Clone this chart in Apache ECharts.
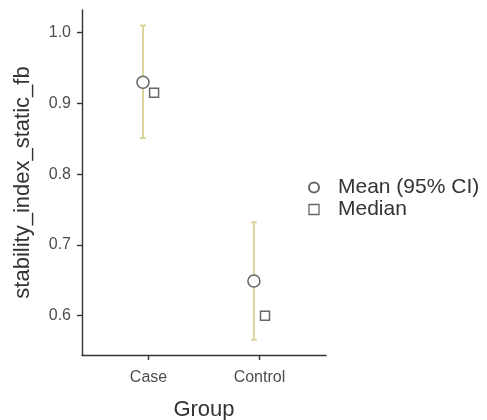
<!DOCTYPE html>
<html>
<head>
<meta charset="utf-8">
<script src="https://cdn.jsdelivr.net/npm/echarts@6/dist/echarts.min.js"></script>
<style>
  html, body { margin: 0; padding: 0; background: #fff; }
  #chart { width: 487px; height: 420px; }
</style>
</head>
<body>
<div id="chart"></div>
<script>
// groups on the x axis
var groups = ['Case', 'Control'];
// mean with 95% CI
var meanValues = [0.930, 0.649];
var ciLower = [0.851, 0.566];
var ciUpper = [1.010, 0.732];
// median
var medianValues = [0.915, 0.600];
var yTicks = [0.6, 0.7, 0.8, 0.9, 1.0];

var dodge = 0.05;
var meanData = [];
var medianData = [];
var ciData = [];
groups.forEach(function(g, i) {
    meanData.push([i + 1 - dodge, meanValues[i]]);
    medianData.push([i + 1 + dodge, medianValues[i]]);
    ciData.push([i + 1 - dodge, ciLower[i], ciUpper[i]]);
});

var myEchart = echarts.init(document.getElementById('chart'));
var option = {
    animation: false,
    textStyle: { fontFamily: 'Liberation Sans, Arial, sans-serif' },
    grid: { left: 82, top: 10, width: 244, height: 345, outerBoundsMode: 'none', containLabel: false },
    legend: {
        orient: 'vertical',
        left: 303,
        top: 172,
        itemWidth: 10,
        itemHeight: 10,
        itemGap: 1,
        textStyle: { color: '#333', fontSize: 21, lineHeight: 18, padding: [0, 0, 0, 14] },
        data: [
            { name: 'Mean (95% CI)', icon: 'circle' },
            { name: 'Median', icon: 'rect', itemStyle: { borderWidth: 1.3 } }
        ]
    },
    xAxis: {
        type: 'value',
        min: 0.4,
        max: 2.6,
        name: 'Group',
        nameLocation: 'middle',
        nameGap: 44,
        nameTextStyle: { color: '#333', fontSize: 22 },
        splitLine: { show: false },
        axisLine: { lineStyle: { color: '#333', width: 1.4 } },
        axisTick: { show: true, customValues: [1, 2], length: 5, lineStyle: { color: '#333', width: 1.4 } },
        axisLabel: {
            customValues: [1, 2],
            color: '#4d4d4d',
            fontSize: 16,
            margin: 15,
            formatter: function(v) { return groups[Math.round(v) - 1]; }
        }
    },
    yAxis: {
        type: 'value',
        min: 0.5444,
        max: 1.032,
        name: 'stability_index_static_fb',
        nameLocation: 'middle',
        nameGap: 48,
        nameTextStyle: { color: '#333', fontSize: 22 },
        splitLine: { show: false },
        axisLine: { show: true, lineStyle: { color: '#333', width: 1.4 } },
        axisTick: { show: true, customValues: yTicks, length: 5, lineStyle: { color: '#333', width: 1.4 } },
        axisLabel: {
            customValues: yTicks,
            color: '#4d4d4d',
            fontSize: 16,
            margin: 11,
            formatter: function(v) { return v.toFixed(1); }
        }
    },
    series: [{
        name: 'CI',
        type: 'custom',
        data: ciData,
        z: 1,
        renderItem: function(params, api) {
            var lo = api.coord([api.value(0), api.value(1)]);
            var hi = api.coord([api.value(0), api.value(2)]);
            var cap = 3;
            var style = { stroke: '#dbd69c', lineWidth: 2 };
            return {
                type: 'group',
                children: [
                    { type: 'line', shape: { x1: lo[0], y1: lo[1], x2: hi[0], y2: hi[1] }, style: style },
                    { type: 'line', shape: { x1: lo[0] - cap, y1: lo[1], x2: lo[0] + cap, y2: lo[1] }, style: style },
                    { type: 'line', shape: { x1: hi[0] - cap, y1: hi[1], x2: hi[0] + cap, y2: hi[1] }, style: style }
                ]
            };
        }
    }, {
        name: 'Mean (95% CI)',
        type: 'scatter',
        data: meanData,
        symbol: 'circle',
        symbolSize: 12,
        z: 3,
        itemStyle: { color: '#fff', borderColor: '#666', borderWidth: 1.5, opacity: 1 }
    }, {
        name: 'Median',
        type: 'scatter',
        data: medianData,
        symbol: 'rect',
        symbolSize: 9,
        z: 3,
        itemStyle: { color: '#fff', borderColor: '#666', borderWidth: 1.5, opacity: 1 }
    }]
};
myEchart.setOption(option);
</script>
</body>
</html>
